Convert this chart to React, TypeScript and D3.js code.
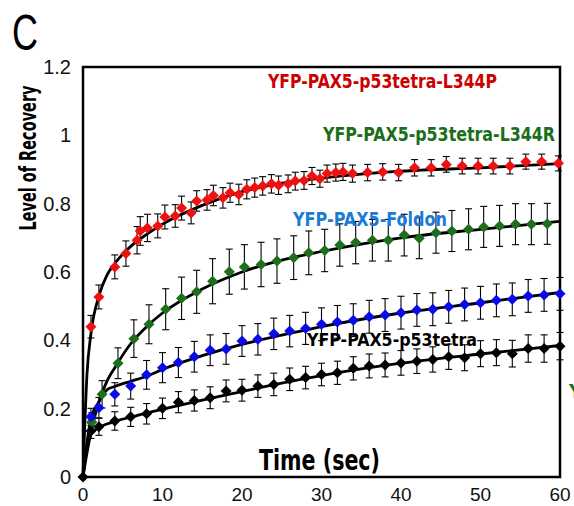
import * as d3 from "d3";

// Time points (sec) and recovery values
const redTime = [1, 2, 4, 5.4, 6.8, 7.2, 8.1, 9.4, 10.3, 11.6, 12.4, 13.6, 14.3, 15.6, 16.4, 17.6, 18.5, 19.6, 20.6, 21.6, 22.6, 23.7, 24.6, 25.8, 26.7, 27.8, 28.8, 29.8, 30.7, 31.8, 32.7, 33.9, 35.8, 37.7, 39.7, 41.7, 43.8, 45.7, 47.7, 49.7, 51.6, 53.7, 55.7, 57.7, 59.8];
const redValue = [0.44, 0.527, 0.615, 0.654, 0.693, 0.72, 0.729, 0.735, 0.761, 0.764, 0.787, 0.773, 0.808, 0.811, 0.824, 0.817, 0.832, 0.827, 0.842, 0.847, 0.852, 0.858, 0.854, 0.858, 0.866, 0.868, 0.881, 0.873, 0.888, 0.891, 0.893, 0.888, 0.891, 0.893, 0.891, 0.905, 0.905, 0.915, 0.91, 0.91, 0.91, 0.91, 0.923, 0.923, 0.918];
const redError = [0.033, 0.035, 0.035, 0.037, 0.04, 0.042, 0.04, 0.035, 0.035, 0.033, 0.035, 0.032, 0.03, 0.03, 0.03, 0.03, 0.028, 0.03, 0.028, 0.028, 0.027, 0.027, 0.027, 0.026, 0.026, 0.026, 0.025, 0.025, 0.025, 0.025, 0.025, 0.025, 0.024, 0.024, 0.024, 0.024, 0.024, 0.023, 0.023, 0.023, 0.023, 0.023, 0.022, 0.022, 0.022];

const greenTime = [1.1, 2.4, 4.4, 6.4, 8.3, 10.4, 12.4, 14.3, 16.3, 18.4, 20.3, 22.4, 24.4, 26.5, 28.4, 30.4, 32.3, 34.3, 36.4, 38.4, 40.4, 42.3, 44.4, 46.4, 48.5, 50.4, 52.4, 54.4, 56.4, 58.4];
const greenValue = [0.161, 0.242, 0.333, 0.405, 0.447, 0.491, 0.523, 0.542, 0.573, 0.601, 0.615, 0.622, 0.632, 0.642, 0.656, 0.663, 0.679, 0.686, 0.693, 0.693, 0.708, 0.699, 0.715, 0.72, 0.725, 0.732, 0.735, 0.74, 0.74, 0.741];
const greenError = [0.027, 0.04, 0.045, 0.055, 0.057, 0.06, 0.062, 0.063, 0.066, 0.066, 0.065, 0.065, 0.065, 0.064, 0.064, 0.062, 0.062, 0.062, 0.061, 0.061, 0.061, 0.06, 0.06, 0.06, 0.06, 0.06, 0.06, 0.06, 0.06, 0.06];

const blueTime = [1, 2, 4, 6, 8, 10, 12, 14, 16, 18, 20, 22, 24, 26, 28, 30, 32, 34, 36, 38, 40, 42, 44, 46, 48, 50, 52, 54, 56, 58, 60];
const blueValue = [0.176, 0.203, 0.242, 0.266, 0.299, 0.32, 0.335, 0.352, 0.371, 0.375, 0.398, 0.403, 0.419, 0.427, 0.435, 0.447, 0.454, 0.459, 0.469, 0.474, 0.481, 0.489, 0.491, 0.498, 0.505, 0.51, 0.517, 0.52, 0.53, 0.533, 0.536];
const blueError = [0.025, 0.03, 0.034, 0.038, 0.042, 0.044, 0.044, 0.045, 0.045, 0.045, 0.045, 0.046, 0.046, 0.046, 0.047, 0.048, 0.048, 0.048, 0.048, 0.048, 0.048, 0.048, 0.048, 0.048, 0.048, 0.048, 0.048, 0.048, 0.048, 0.048, 0.048];

const blackTime = [0, 1, 2, 4, 6, 8, 10, 12, 14, 16, 18, 20, 22, 24, 26, 28, 30, 32, 34, 36, 38, 40, 42, 44, 46, 48, 50, 52, 54, 56, 58, 60];
const blackValue = [0, 0.135, 0.147, 0.164, 0.176, 0.185, 0.201, 0.219, 0.224, 0.232, 0.252, 0.254, 0.266, 0.271, 0.286, 0.291, 0.3, 0.305, 0.318, 0.325, 0.328, 0.334, 0.339, 0.344, 0.352, 0.349, 0.361, 0.364, 0.361, 0.376, 0.376, 0.383];
const blackError = [0, 0.022, 0.025, 0.027, 0.028, 0.03, 0.03, 0.031, 0.031, 0.032, 0.032, 0.032, 0.033, 0.033, 0.033, 0.033, 0.033, 0.034, 0.034, 0.035, 0.035, 0.036, 0.036, 0.037, 0.037, 0.038, 0.038, 0.038, 0.039, 0.04, 0.04, 0.04];

// Fitted recovery curves
const fitTime = [0, 0.5, 1, 2, 3, 4, 6, 8, 10, 15, 20, 25, 30, 40, 50, 60];
const redFit = [0, 0.3, 0.42, 0.53, 0.59, 0.625, 0.675, 0.71, 0.74, 0.795, 0.835, 0.86, 0.875, 0.895, 0.905, 0.917];
const greenFit = [0, 0.07, 0.13, 0.22, 0.28, 0.32, 0.39, 0.44, 0.48, 0.55, 0.6, 0.635, 0.66, 0.7, 0.725, 0.748];
const blueFit = [0, 0.1, 0.17, 0.22, 0.255, 0.265, 0.28, 0.295, 0.315, 0.355, 0.388, 0.415, 0.44, 0.48, 0.51, 0.54];
const blackFit = [0, 0.09, 0.125, 0.145, 0.155, 0.163, 0.175, 0.187, 0.198, 0.225, 0.25, 0.275, 0.297, 0.333, 0.36, 0.385];

const yTicks = [0, 0.2, 0.4, 0.6, 0.8, 1, 1.2];
const xTicks = [0, 10, 20, 30, 40, 50, 60];

const seriesNames = ["YFP-PAX5-p53tetra-L344P", "YFP-PAX5-p53tetra-L344R", "YFP-PAX5-Foldon", "YFP-PAX5-p53tetra"];

const width = 574;
const height = 506;

const narrow = "'Liberation Sans Narrow', 'DejaVu Sans Condensed', 'Liberation Sans', sans-serif";
const sans = "'Liberation Sans', Arial, sans-serif";

export default function App() {
  const x = d3.scaleLinear().domain([0, 60]).range([83, 560]);
  const y = d3.scaleLinear().domain([0, 1.2]).range([477, 67]);

  const series = [
    { time: redTime, value: redValue, error: redError, fit: redFit, fill: "#ee1111" },
    { time: greenTime, value: greenValue, error: greenError, fit: greenFit, fill: "#1e6e1e" },
    { time: blueTime, value: blueValue, error: blueError, fit: blueFit, fill: "#0a0ae6" },
    { time: blackTime, value: blackValue, error: blackError, fit: blackFit, fill: "#000000" },
  ];

  const fitLine = d3
    .line<number>()
    .x((d, i) => x(fitTime[i]))
    .y((d) => y(d))
    .curve(d3.curveMonotoneX);

  const diamond = (cx: number, cy: number, r: number) =>
    `M${cx},${cy - r}L${cx + r},${cy}L${cx},${cy + r}L${cx - r},${cy}Z`;

  const labels = [
    { text: seriesNames[0], x: 268, y: 88, len: 229, size: 19, fill: "#cc0000" },
    { text: seriesNames[1], x: 323, y: 141, len: 232, size: 20, fill: "#1a6e1a" },
    { text: seriesNames[2], x: 293, y: 226, len: 154, size: 19, fill: "#1b7bd6" },
    { text: seriesNames[3], x: 307, y: 346, len: 170, size: 18, fill: "#000000" },
  ];

  return (
    <svg
      width={width}
      height={height}
      viewBox={`0 0 ${width} ${height}`}
      style={{ position: "absolute", left: 0, top: 0, background: "#fff" }}
    >
      <rect width={width} height={height} fill="#fff" />

      {/* panel letter */}
      <text x={12} y={50} fontFamily={sans} fontSize={50} textLength={26} lengthAdjust="spacingAndGlyphs">
        C
      </text>

      {/* frame */}
      <rect x={83} y={67} width={477} height={410} fill="none" stroke="#000" strokeWidth={2.5} />

      {/* y tick labels */}
      {yTicks.map((t) => (
        <text key={t} x={71} y={y(t)} dy="0.35em" textAnchor="end" fontFamily={sans} fontSize={20} fill="#111">
          {d3.format("~g")(t)}
        </text>
      ))}

      {/* x tick labels */}
      {xTicks.map((t) => (
        <text key={t} x={x(t)} y={501} textAnchor="middle" fontFamily={sans} fontSize={19} fill="#111">
          {t}
        </text>
      ))}

      {/* axis titles */}
      <text
        transform="translate(36,158) rotate(-90)"
        textAnchor="middle"
        fontFamily={narrow}
        fontWeight="bold"
        fontSize={23}
        textLength={145}
        lengthAdjust="spacingAndGlyphs"
      >
        Level of Recovery
      </text>
      <text x={259} y={470} fontFamily={narrow} fontWeight="bold" fontSize={28} textLength={121} lengthAdjust="spacingAndGlyphs">
        Time (sec)
      </text>

      {/* error bars */}
      {series.map((s, si) => (
        <g key={`err-${si}`} stroke="#000" strokeWidth={1.1}>
          {s.time.map((t, i) =>
            s.error[i] > 0 ? (
              <g key={i}>
                <line x1={x(t)} x2={x(t)} y1={y(s.value[i] - s.error[i])} y2={y(s.value[i] + s.error[i])} />
                <line x1={x(t) - 3.5} x2={x(t) + 3.5} y1={y(s.value[i] - s.error[i])} y2={y(s.value[i] - s.error[i])} />
                <line x1={x(t) - 3.5} x2={x(t) + 3.5} y1={y(s.value[i] + s.error[i])} y2={y(s.value[i] + s.error[i])} />
              </g>
            ) : null,
          )}
        </g>
      ))}

      {/* fitted curves */}
      {series.map((s, si) => (
        <path key={`fit-${si}`} d={fitLine(s.fit) ?? ""} fill="none" stroke="#000" strokeWidth={2.8} />
      ))}

      {/* markers */}
      {series.map((s, si) => (
        <g key={`pts-${si}`} fill={s.fill}>
          {s.time.map((t, i) => (
            <path key={i} d={diamond(x(t), y(s.value[i]), 5.5)} />
          ))}
        </g>
      ))}

      {/* series labels */}
      {labels.map((l) => (
        <text
          key={l.text}
          x={l.x}
          y={l.y}
          fill={l.fill}
          fontFamily={narrow}
          fontWeight="bold"
          fontSize={l.size}
          textLength={l.len}
          lengthAdjust="spacingAndGlyphs"
        >
          {l.text}
        </text>
      ))}

      {/* clipped label at the right edge */}
      <text x={569} y={398} fill="#1a6e1a" fontFamily={narrow} fontWeight="bold" fontSize={20}>
        {seriesNames[1]}
      </text>
    </svg>
  );
}
